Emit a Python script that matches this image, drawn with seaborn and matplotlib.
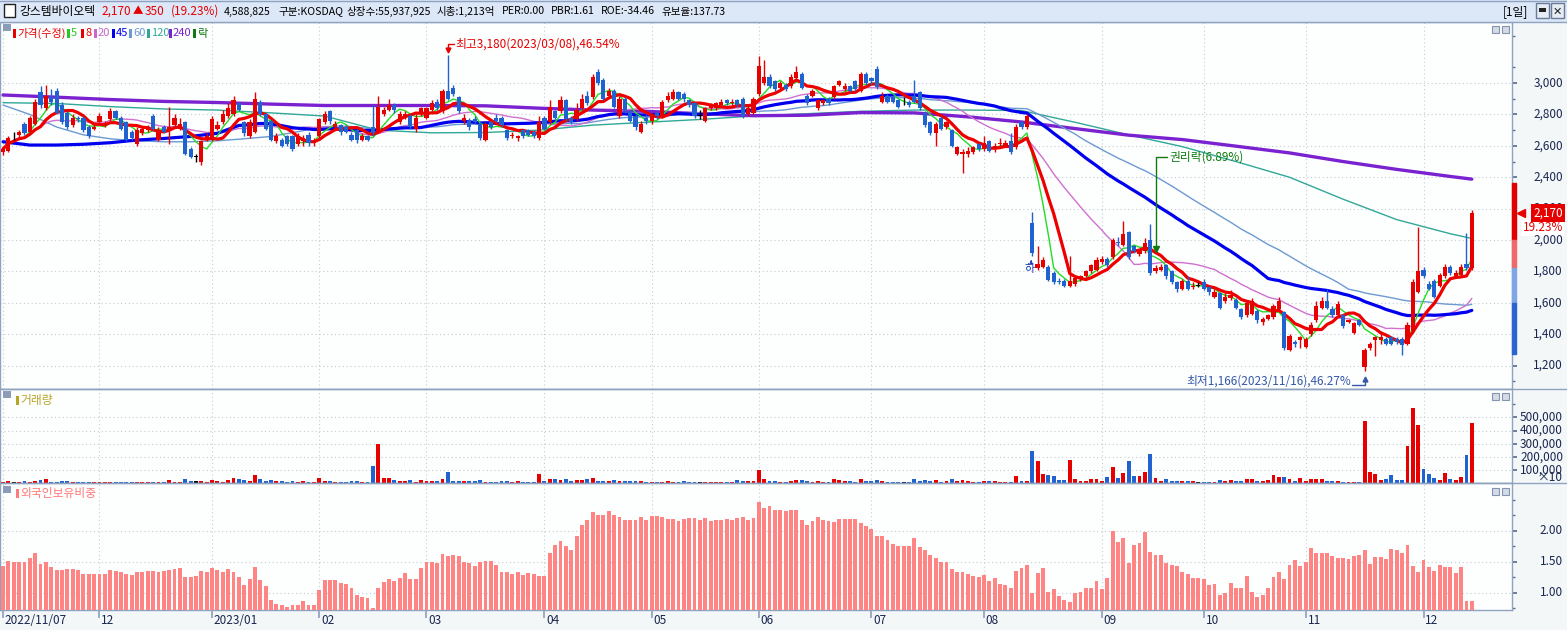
import numpy as np
import pandas as pd
import seaborn as sns
import matplotlib.pyplot as plt
import matplotlib.transforms as mtransforms
from matplotlib.patches import Rectangle
from matplotlib.lines import Line2D

# KRX trading days shown on the chart
krx_holidays = ["2022-12-30", "2023-01-23", "2023-01-24", "2023-03-01", "2023-05-01",
                "2023-05-05", "2023-05-29", "2023-06-06", "2023-08-15", "2023-09-28",
                "2023-09-29", "2023-10-02", "2023-10-03", "2023-10-09"]
dates = pd.bdate_range("2022-11-07", "2023-12-14", freq="C", holidays=krx_holidays)

open_ = [
    2560, 2570, 2660, 2670, 2740, 2690, 2740, 2940, 2840, 2910,
    2950, 2860, 2810, 2730, 2780, 2780, 2720, 2710, 2750, 2730,
    2770, 2820, 2780, 2750, 2690, 2610, 2680, 2700, 2790, 2640,
    2720, 2700, 2730, 2710, 2750, 2580, 2530, 2500, 2640, 2640,
    2710, 2750, 2790, 2800, 2870, 2750, 2660, 2690, 2880, 2800,
    2760, 2630, 2640, 2660, 2660, 2610, 2630, 2670, 2620, 2660,
    2750, 2820, 2720, 2730, 2720, 2670, 2700, 2640, 2660, 2720,
    2690, 2800, 2830, 2860, 2750, 2780, 2790, 2710, 2800, 2780,
    2830, 2880, 2820, 2950, 2970, 2910, 2760, 2760, 2770, 2740,
    2640, 2750, 2780, 2780, 2700, 2660, 2650, 2700, 2700, 2690,
    2650, 2780, 2750, 2820, 2820, 2890, 2780, 2770, 2840, 2920,
    2910, 3070, 3020, 2920, 2950, 2790, 2900, 2820, 2790, 2690,
    2780, 2760, 2810, 2790, 2890, 2900, 2940, 2930, 2890, 2870,
    2790, 2760, 2840, 2840, 2860, 2890, 2870, 2890, 2900, 2800,
    2810, 2930, 3000, 3040, 3010, 2970, 2990, 2980, 3030, 3060,
    2920, 2920, 2840, 2870, 2900, 2910, 2990, 2960, 2980, 3010,
    2950, 3060, 3030, 3090, 2880, 2920, 2910, 2890, 2890, 2880,
    2920, 2940, 2810, 2750, 2680, 2780, 2720, 2700, 2550, 2550,
    2550, 2560, 2610, 2580, 2630, 2580, 2610, 2600, 2630, 2590,
    2750, 2720, 2110, 1820, 1830, 1830, 1790, 1740, 1740, 1710,
    1720, 1750, 1770, 1800, 1810, 1860, 1880, 1890, 1990, 1970,
    2050, 1960, 1910, 1930, 2000, 1800, 1810, 1840, 1800, 1730,
    1690, 1740, 1700, 1710, 1730, 1700, 1640, 1660, 1610, 1630,
    1620, 1560, 1520, 1530, 1550, 1480, 1500, 1510, 1560, 1540,
    1300, 1350, 1360, 1320, 1400, 1490, 1570, 1610, 1560, 1520,
    1520, 1480, 1410, 1490, 1190, 1310, 1360, 1360, 1370, 1380,
    1370, 1370, 1340, 1420, 1670, 1810, 1720, 1740, 1710, 1770,
    1830, 1770, 1780, 1850, 1820]
close = [
    2580, 2650, 2660, 2690, 2680, 2780, 2880, 2860, 2920, 2880,
    2810, 2750, 2720, 2780, 2770, 2700, 2660, 2720, 2790, 2740,
    2820, 2780, 2710, 2640, 2650, 2700, 2710, 2715, 2710, 2700,
    2690, 2720, 2780, 2740, 2550, 2530, 2530, 2630, 2660, 2770,
    2730, 2800, 2840, 2890, 2830, 2680, 2750, 2900, 2800, 2710,
    2640, 2660, 2600, 2610, 2580, 2660, 2650, 2620, 2630, 2770,
    2800, 2760, 2740, 2690, 2690, 2640, 2640, 2660, 2640, 2680,
    2850, 2830, 2860, 2830, 2800, 2800, 2720, 2780, 2840, 2840,
    2870, 2840, 2950, 2900, 2930, 2820, 2780, 2720, 2750, 2650,
    2740, 2720, 2760, 2730, 2650, 2670, 2660, 2660, 2670, 2660,
    2750, 2710, 2850, 2780, 2890, 2770, 2750, 2830, 2900, 2870,
    3040, 3000, 2900, 2950, 2850, 2900, 2820, 2760, 2720, 2740,
    2760, 2800, 2790, 2880, 2920, 2940, 2900, 2900, 2860, 2790,
    2790, 2840, 2860, 2870, 2880, 2870, 2880, 2860, 2790, 2840,
    2900, 3110, 3040, 2980, 2960, 3000, 2960, 3040, 3070, 2970,
    2870, 2950, 2890, 2890, 2870, 2980, 3010, 2980, 2950, 2960,
    3060, 3000, 3010, 2975, 2920, 2880, 2880, 2850, 2890, 2860,
    2880, 2840, 2730, 2680, 2740, 2710, 2750, 2600, 2590, 2560,
    2570, 2590, 2580, 2620, 2570, 2600, 2620, 2620, 2560, 2720,
    2720, 2790, 1920, 1850, 1870, 1745, 1730, 1730, 1710, 1740,
    1760, 1770, 1800, 1840, 1870, 1880, 1840, 2000, 1980, 2040,
    1890, 1930, 1930, 1980, 1790, 1820, 1830, 1770, 1730, 1690,
    1740, 1690, 1710, 1710, 1690, 1670, 1670, 1570, 1640, 1650,
    1570, 1510, 1600, 1610, 1490, 1500, 1520, 1580, 1610, 1310,
    1390, 1340, 1380, 1370, 1460, 1580, 1610, 1570, 1520, 1590,
    1450, 1490, 1470, 1460, 1300, 1340, 1380, 1380, 1340, 1340,
    1350, 1330, 1460, 1730, 1800, 1770, 1690, 1640, 1780, 1830,
    1790, 1790, 1830, 1820, 2170]
high = [
    2600, 2660, 2690, 2700, 2750, 2790, 2900, 2980, 2990, 2960,
    2970, 2880, 2820, 2800, 2790, 2790, 2730, 2740, 2810, 2760,
    2840, 2830, 2790, 2760, 2700, 2720, 2720, 2730, 2800, 2720,
    2730, 2850, 2800, 2780, 2760, 2590, 2550, 2640, 2680, 2790,
    2760, 2830, 2870, 2920, 2880, 2760, 2770, 2940, 2890, 2810,
    2770, 2680, 2650, 2670, 2670, 2680, 2670, 2690, 2650, 2780,
    2820, 2830, 2760, 2740, 2730, 2690, 2710, 2680, 2670, 2860,
    2920, 2850, 2900, 2870, 2820, 2820, 2800, 2800, 2850, 2850,
    2890, 2900, 2960, 3180, 2990, 2920, 2800, 2780, 2790, 2750,
    2750, 2760, 2800, 2790, 2710, 2690, 2670, 2710, 2710, 2700,
    2790, 2790, 2890, 2830, 2920, 2900, 2790, 2870, 2930, 2950,
    3060, 3090, 3030, 2970, 2960, 2920, 2910, 2830, 2800, 2760,
    2800, 2810, 2820, 2890, 2940, 2960, 2950, 2940, 2900, 2880,
    2830, 2850, 2870, 2880, 2900, 2900, 2900, 2900, 2910, 2860,
    2910, 3170, 3150, 3060, 3020, 3010, 3000, 3060, 3110, 3070,
    2930, 2960, 2900, 2900, 2910, 2990, 3020, 3000, 2990, 3020,
    3070, 3070, 3040, 3110, 2940, 2930, 2920, 2900, 2910, 2890,
    3020, 2950, 2820, 2760, 2750, 2790, 2760, 2710, 2600, 2580,
    2590, 2600, 2620, 2660, 2640, 2620, 2650, 2640, 2680, 2740,
    2760, 2800, 2180, 1960, 1890, 1840, 1800, 1760, 1750, 1900,
    1770, 1780, 1810, 1850, 1890, 1900, 1890, 2010, 2020, 2120,
    2060, 1970, 1940, 2010, 2100, 1840, 1850, 1850, 1810, 1740,
    1750, 1770, 1730, 1730, 1750, 1710, 1690, 1670, 1660, 1680,
    1630, 1570, 1610, 1630, 1560, 1510, 1530, 1590, 1640, 1550,
    1400, 1360, 1390, 1380, 1480, 1610, 1640, 1690, 1580, 1610,
    1530, 1500, 1480, 1500, 1310, 1350, 1390, 1420, 1380, 1390,
    1380, 1380, 1480, 1750, 2080, 1830, 1740, 1750, 1790, 1850,
    1840, 1810, 1850, 2045, 2190]
low = [
    2540, 2560, 2640, 2650, 2670, 2680, 2730, 2840, 2830, 2860,
    2800, 2740, 2710, 2720, 2750, 2690, 2650, 2700, 2740, 2720,
    2760, 2770, 2700, 2630, 2640, 2600, 2670, 2690, 2700, 2630,
    2680, 2610, 2720, 2700, 2540, 2520, 2500, 2480, 2630, 2630,
    2700, 2740, 2780, 2790, 2820, 2660, 2650, 2680, 2790, 2700,
    2630, 2620, 2590, 2600, 2570, 2600, 2600, 2600, 2600, 2640,
    2740, 2740, 2710, 2670, 2680, 2630, 2620, 2630, 2630, 2660,
    2680, 2790, 2820, 2810, 2740, 2770, 2710, 2690, 2790, 2770,
    2820, 2830, 2810, 2890, 2920, 2810, 2740, 2700, 2740, 2640,
    2630, 2710, 2750, 2720, 2640, 2650, 2630, 2650, 2660, 2650,
    2640, 2700, 2740, 2770, 2810, 2760, 2740, 2760, 2830, 2860,
    2900, 2990, 2890, 2910, 2840, 2780, 2810, 2750, 2700, 2680,
    2740, 2740, 2770, 2780, 2880, 2890, 2890, 2880, 2850, 2780,
    2770, 2750, 2830, 2830, 2850, 2860, 2860, 2850, 2780, 2790,
    2800, 2920, 2990, 2970, 2950, 2960, 2950, 2970, 3020, 2960,
    2860, 2910, 2830, 2860, 2860, 2900, 2980, 2950, 2940, 2950,
    2940, 2990, 2990, 2960, 2870, 2870, 2870, 2840, 2860, 2850,
    2870, 2830, 2720, 2670, 2600, 2700, 2710, 2590, 2540, 2430,
    2530, 2550, 2570, 2570, 2560, 2560, 2600, 2590, 2550, 2580,
    2710, 2710, 1900, 1810, 1820, 1740, 1720, 1720, 1700, 1700,
    1710, 1740, 1760, 1790, 1800, 1850, 1830, 1880, 1960, 1960,
    1880, 1920, 1900, 1920, 1780, 1790, 1800, 1750, 1720, 1670,
    1680, 1680, 1690, 1700, 1680, 1650, 1630, 1560, 1600, 1620,
    1560, 1500, 1510, 1520, 1470, 1460, 1490, 1500, 1550, 1300,
    1290, 1320, 1310, 1310, 1390, 1480, 1560, 1560, 1510, 1510,
    1440, 1470, 1400, 1450, 1166, 1300, 1260, 1340, 1330, 1330,
    1340, 1270, 1330, 1410, 1660, 1760, 1680, 1630, 1700, 1760,
    1780, 1760, 1770, 1810, 1810]

# volume in thousands of axis units (axis is shown x10)
volume_k = [
    5, 15, 8, 8, 13, 10, 15, 23, 30, 8,
    10, 13, 15, 8, 8, 8, 8, 8, 8, 8,
    8, 8, 8, 8, 8, 8, 8, 8, 8, 8,
    8, 23, 10, 10, 30, 15, 15, 15, 10, 23,
    15, 8, 23, 38, 30, 23, 15, 61, 30, 15,
    23, 15, 15, 10, 15, 8, 15, 8, 8, 38,
    15, 13, 8, 8, 8, 15, 15, 8, 8, 130,
    297, 38, 38, 23, 15, 15, 23, 8, 23, 15,
    15, 15, 30, 84, 15, 15, 15, 15, 15, 23,
    8, 8, 8, 15, 15, 8, 15, 8, 8, 8,
    69, 15, 30, 30, 23, 30, 15, 23, 23, 30,
    38, 15, 15, 15, 23, 15, 15, 15, 15, 15,
    8, 8, 8, 8, 15, 8, 8, 15, 8, 8,
    8, 8, 8, 8, 8, 8, 8, 23, 15, 15,
    15, 99, 28, 15, 15, 8, 8, 15, 23, 20,
    13, 8, 15, 8, 8, 30, 23, 15, 13, 8,
    28, 15, 15, 23, 15, 8, 8, 8, 8, 8,
    30, 15, 23, 15, 23, 8, 15, 30, 15, 23,
    15, 8, 8, 15, 15, 15, 8, 8, 8, 53,
    15, 15, 244, 168, 69, 61, 53, 23, 23, 175,
    30, 15, 15, 28, 28, 15, 46, 122, 38, 76,
    168, 53, 53, 81, 221, 38, 15, 28, 15, 15,
    15, 15, 15, 8, 8, 8, 8, 23, 15, 23,
    15, 15, 30, 30, 15, 15, 23, 61, 46, 46,
    28, 15, 38, 15, 30, 28, 30, 15, 15, 15,
    8, 8, 8, 8, 472, 81, 66, 23, 30, 61,
    23, 23, 282, 569, 442, 107, 69, 38, 23, 76,
    30, 23, 46, 213, 457]

foreign_pct = [
    1.43, 1.51, 1.49, 1.49, 1.49, 1.56, 1.64, 1.46, 1.49, 1.41,
    1.37, 1.37, 1.38, 1.38, 1.37, 1.30, 1.30, 1.30, 1.30, 1.30,
    1.37, 1.35, 1.33, 1.30, 1.28, 1.33, 1.33, 1.35, 1.35, 1.33,
    1.35, 1.37, 1.38, 1.40, 1.25, 1.25, 1.27, 1.35, 1.33, 1.40,
    1.37, 1.33, 1.38, 1.33, 1.25, 1.12, 1.22, 1.41, 1.20, 1.11,
    0.88, 0.82, 0.80, 0.77, 0.80, 0.80, 0.87, 0.80, 0.80, 1.04,
    1.20, 1.20, 1.20, 1.16, 1.14, 1.08, 0.96, 0.93, 0.91, 0.75,
    1.08, 1.17, 1.22, 1.19, 1.24, 1.32, 1.22, 1.22, 1.40, 1.49,
    1.49, 1.48, 1.62, 1.59, 1.61, 1.59, 1.49, 1.48, 1.43, 1.49,
    1.51, 1.51, 1.45, 1.33, 1.33, 1.30, 1.33, 1.28, 1.32, 1.30,
    1.27, 1.27, 1.64, 1.77, 1.83, 1.76, 1.69, 1.91, 2.09, 2.17,
    2.30, 2.25, 2.25, 2.32, 2.25, 2.22, 2.17, 2.17, 2.17, 2.22,
    2.17, 2.24, 2.24, 2.22, 2.19, 2.19, 2.16, 2.19, 2.20, 2.20,
    2.17, 2.20, 2.16, 2.17, 2.17, 2.19, 2.17, 2.20, 2.22, 2.17,
    2.21, 2.46, 2.37, 2.40, 2.33, 2.33, 2.32, 2.33, 2.33, 2.17,
    2.09, 2.16, 2.22, 2.17, 2.16, 2.14, 2.19, 2.19, 2.19, 2.19,
    2.12, 2.08, 2.03, 1.91, 1.91, 1.85, 1.78, 1.75, 1.75, 1.75,
    1.88, 1.74, 1.69, 1.61, 1.56, 1.49, 1.49, 1.38, 1.33, 1.33,
    1.30, 1.27, 1.25, 1.28, 1.19, 1.24, 1.14, 1.12, 1.08, 1.35,
    1.40, 1.45, 0.99, 1.32, 1.40, 1.01, 1.06, 0.95, 0.88, 0.85,
    0.99, 1.01, 1.08, 1.08, 1.19, 1.06, 1.24, 1.99, 1.82, 1.88,
    1.48, 1.77, 1.80, 1.98, 1.66, 1.61, 1.61, 1.48, 1.45, 1.43,
    1.33, 1.30, 1.24, 1.24, 1.22, 1.12, 1.14, 0.96, 0.99, 1.16,
    1.08, 1.08, 1.27, 1.01, 0.93, 0.96, 1.08, 1.25, 1.33, 1.22,
    1.45, 1.53, 1.43, 1.49, 1.72, 1.64, 1.64, 1.64, 1.59, 1.56,
    1.56, 1.54, 1.59, 1.61, 1.69, 1.46, 1.58, 1.58, 1.54, 1.70,
    1.69, 1.64, 1.77, 1.43, 1.33, 1.53, 1.41, 1.35, 1.45, 1.41,
    1.41, 1.32, 1.41, 0.87, 0.87]

# long moving averages (history before the window is not shown)
ma_days = [0, 10, 20, 30, 40, 50, 60, 70, 80, 90, 100, 110, 120, 130, 140,
           150, 160, 170, 180, 190, 200, 210, 220, 230, 240, 250, 260, 270, 274]
ma120_read = [2875, 2870, 2850, 2835, 2828, 2810, 2790, 2700, 2683, 2685, 2700, 2732,
              2750, 2768, 2790, 2805, 2820, 2828, 2828, 2825, 2750, 2670, 2595, 2500,
              2400, 2260, 2130, 2040, 2010]
ma240_read = [2924, 2910, 2895, 2883, 2876, 2866, 2857, 2857, 2857, 2855, 2840, 2828,
              2820, 2805, 2792, 2795, 2812, 2810, 2785, 2752, 2710, 2668, 2640, 2598,
              2555, 2500, 2450, 2405, 2388]
# first weeks of the 45/60-day averages, before a full window of closes is on the chart
head_days_45 = [0, 5, 10, 15, 20, 25, 30, 35, 40]
ma45_head = [2626, 2605, 2605, 2610, 2620, 2637, 2647, 2660, 2680]
head_days_60 = [0, 5, 10, 15, 20, 25, 30, 35, 40, 45, 50, 55]
ma60_head = [2860, 2800, 2720, 2670, 2645, 2632, 2626, 2626, 2632, 2645, 2660, 2690]

ex_rights_date = "2023-09-15"
limit_band = [2366, 2000, 1820, 1600, 1274]
limit_colors = ["#e00000", "#f06a6a", "#7ea6e6", "#2a64d0"]

RED = "#e60000"
BLUE = "#1f62d0"
EDGE = "#8fa3c0"
GRID = "#c4ccd6"
TXT = "#1a2650"
W, H = 1567, 630

sns.set_theme(style="white")
plt.rcParams["font.family"] = ["Noto Sans CJK KR", "DejaVu Sans"]

df = pd.DataFrame({"date": dates, "open": open_, "high": high, "low": low,
                   "close": close, "volume": np.array(volume_k) * 1000,
                   "foreign": foreign_pct})
df["i"] = np.arange(len(df))
for n in (5, 8, 20):
    df[f"ma{n}"] = df["close"].rolling(n, min_periods=1).mean()
for n in (45, 60):
    df[f"ma{n}"] = df["close"].rolling(n).mean()


def joined(head_days, head_vals, col):
    full = df[["i", col]].dropna()
    x = list(head_days) + full["i"].tolist()
    y = list(head_vals) + full[col].tolist()
    return pd.DataFrame({"i": x, col: y})


candle_col = np.where(df.close > df.open, RED, np.where(df.close < df.open, BLUE, "black"))
month_idx = [0] + [k for k in range(1, len(df)) if df.date[k].month != df.date[k - 1].month]
month_lab = []
for k in month_idx:
    d = df.date[k]
    if k == 0:
        month_lab.append(d.strftime("%Y/%m/%d"))
    elif d.month == 1:
        month_lab.append(d.strftime("%Y/%m"))
    else:
        month_lab.append(d.strftime("%m"))


def box(x0, y0, x1, y1):
    return [x0 / W, 1 - y1 / H, (x1 - x0) / W, (y1 - y0) / H]


def px_rect(x, y, w, h, **kw):
    fig.patches.append(Rectangle((x / W, 1 - (y + h) / H), w / W, h / H,
                                 transform=fig.transFigure, **kw))


def px_text(x, y, s, **kw):
    kw.setdefault("fontsize", 8.5)
    fig.text(x / W, 1 - y / H, s, va="center", ha=kw.pop("ha", "left"), **kw)


fig = plt.figure(figsize=(W / 100, H / 100), dpi=100, facecolor="#f3f7f8")
ax_p = fig.add_axes(box(0, 22, 1512, 389))
ax_v = fig.add_axes(box(0, 389, 1512, 483), sharex=ax_p)
ax_f = fig.add_axes(box(0, 483, 1512, 610), sharex=ax_p)

# ---- price panel
sns.lineplot(x=ma_days, y=ma120_read, ax=ax_p, color="#30a898", linewidth=1.0, zorder=2)
sns.lineplot(x=ma_days, y=ma240_read, ax=ax_p, color="#7b22d0", linewidth=2.4, zorder=2)
sns.lineplot(data=joined(head_days_60, ma60_head, "ma60"), x="i", y="ma60", ax=ax_p,
             color="#6c9ad2", linewidth=1.0, zorder=2)
sns.lineplot(data=df, x="i", y="ma20", ax=ax_p, color="#d070d0", linewidth=1.0, zorder=2)
sns.lineplot(data=joined(head_days_45, ma45_head, "ma45"), x="i", y="ma45", ax=ax_p,
             color="#0000ee", linewidth=2.3, zorder=2)
sns.lineplot(data=df, x="i", y="ma5", ax=ax_p, color="#22dd22", linewidth=1.0, zorder=2)
sns.lineplot(data=df, x="i", y="ma8", ax=ax_p, color="#ee0000", linewidth=2.3, zorder=2)

ax_p.vlines(df.i, df.low, df.high, colors=candle_col, lw=1, zorder=3)
body_lo = np.minimum(df.open, df.close)
body_h = np.maximum(np.abs(df.close - df.open), 5)
ax_p.bar(df.i, body_h, bottom=body_lo, width=0.78, color=candle_col, linewidth=0, zorder=4)

last, prev = df.close.iloc[-1], df.close.iloc[-2]
hi_i = int(df.high.idxmax()); hi = df.high[hi_i]
lo_i = int(df.low.idxmin()); lo = df.low[lo_i]
ax_p.plot([hi_i + 1.2, hi_i, hi_i], [hi + 68, hi + 68, hi + 30], color=RED, lw=1, zorder=5)
ax_p.plot(hi_i, hi + 28, marker="v", ms=3.5, color=RED, zorder=5)
ax_p.text(hi_i + 1.4, hi + 68, f"최고{hi:,}({df.date[hi_i]:%Y/%m/%d}),{(hi - last) / last * 100:.2f}%",
          color=RED, fontsize=8.5, va="center", ha="left")
LOW_C = "#3558a8"
ax_p.plot([lo_i - 2.3, lo_i, lo_i], [lo - 90, lo - 90, lo - 52], color=LOW_C, lw=1, zorder=5)
ax_p.plot(lo_i, lo - 50, marker="^", ms=3.5, color=LOW_C, zorder=5)
ax_p.text(lo_i - 2.5, lo - 66, f"최저{lo:,}({df.date[lo_i]:%Y/%m/%d}),{(last - lo) / last * 100:.2f}%",
          color=LOW_C, fontsize=8.5, va="center", ha="right")

ex_i = int(np.where(df.date == pd.Timestamp(ex_rights_date))[0][0])
GRN = "#107a10"
ax_p.plot([ex_i + 2.2, ex_i, ex_i], [2530, 2530, 1950], color=GRN, lw=1, zorder=5)
ax_p.plot(ex_i, 1945, marker="v", ms=4, color=GRN, zorder=5)
ax_p.text(ex_i + 2.6, 2530, "권리락(6.89%)", color=GRN, fontsize=8.5, va="center")

gap_i = int(np.argmax(np.array(open_[1:]) < np.array(close[:-1]) * 0.8)) + 1
ax_p.text(gap_i - 0.4, df.low[gap_i] - 82, "하", color="#2040c0", fontsize=8, ha="center", va="center")
ax_p.annotate("", xy=(gap_i - 0.2, df.low[gap_i] - 10), xytext=(gap_i - 0.2, df.low[gap_i] - 55),
              arrowprops=dict(arrowstyle="-|>", color="#2040c0", lw=0.8, mutation_scale=5))

ax_p.set_ylim(1051, 3389)
blend_p = mtransforms.blended_transform_factory(ax_p.transAxes, ax_p.transData)
for k in range(len(limit_band) - 1):
    ax_p.add_patch(Rectangle((1.0, limit_band[k + 1]), 4 / 1512, limit_band[k] - limit_band[k + 1],
                             transform=blend_p, color=limit_colors[k], clip_on=False, zorder=6))
xr = 1 + 51 / 1512
ax_p.text(xr, last, f"{last:,}", transform=blend_p, ha="right", va="center", color="white",
          fontsize=8.5, zorder=7,
          bbox=dict(boxstyle="square,pad=0.2", fc=RED, ec="none"))
ax_p.plot([1 + 9 / 1512], [last], marker="<", ms=6, color=RED, transform=blend_p, clip_on=False, zorder=7)
ax_p.annotate(f"{(last - prev) / prev * 100:.2f}%", xy=(xr, last), xycoords=blend_p,
              xytext=(0, -10.5), textcoords="offset points", ha="right", va="center",
              color=RED, fontsize=8.5, annotation_clip=False,
              bbox=dict(boxstyle="square,pad=0.1", fc="white", ec="none"))

price_ticks = list(range(1200, 3001, 200))
ax_p.set_yticks(price_ticks)
ax_p.set_yticks([v for v in range(1100, 3301, 100) if v % 200], minor=True)
for v in price_ticks:
    ax_p.text(xr, v, f"{v:,}", transform=blend_p, ha="right", va="center", color=TXT, fontsize=8.5)

# ---- volume panel
ax_v.bar(df.i, df.volume, width=0.72, color=candle_col, linewidth=0, zorder=3)
ax_v.set_ylim(0, 717000)
vol_ticks = list(range(100000, 500001, 100000))
ax_v.set_yticks(vol_ticks)
ax_v.set_yticks([600000], minor=True)
blend_v = mtransforms.blended_transform_factory(ax_v.transAxes, ax_v.transData)
for v in vol_ticks:
    ax_v.text(xr, v, f"{v:,}", transform=blend_v, ha="right", va="center", color=TXT, fontsize=8.5)
ax_v.text(xr, 45000, "×10", transform=blend_v, ha="right", va="center", color=TXT, fontsize=8.5)

# ---- foreign ownership panel
ax_f.bar(df.i, df.foreign, width=0.72, color="#ff8585", linewidth=0, zorder=3)
ax_f.set_ylim(0.721, 2.769)
f_ticks = [1.0, 1.5, 2.0]
ax_f.set_yticks(f_ticks)
ax_f.set_yticks([0.75, 1.25, 1.75, 2.25, 2.5], minor=True)
blend_f = mtransforms.blended_transform_factory(ax_f.transAxes, ax_f.transData)
for v in f_ticks:
    ax_f.text(xr, v, f"{v:.2f}", transform=blend_f, ha="right", va="center", color=TXT, fontsize=8.5)

blend_x = mtransforms.blended_transform_factory(ax_f.transData, ax_f.transAxes)
for k, lab in zip(month_idx, month_lab):
    ax_f.text(k + 0.35, -10 / 127, lab, transform=blend_x, ha="left", va="center", color=TXT, fontsize=8.5)

for ax in (ax_p, ax_v, ax_f):
    ax.set_facecolor("#fdfefe")
    ax.set_xlabel("")
    ax.set_ylabel("")
    for s in ax.spines.values():
        s.set_color(EDGE)
        s.set_linewidth(1)
    ax.set_xticks(month_idx)
    ax.yaxis.tick_right()
    ax.tick_params(axis="y", which="major", direction="out", length=3.5, color="#5a6e90",
                   labelright=False, labelleft=False)
    ax.tick_params(axis="y", which="minor", direction="out", length=2.2, color="#5a6e90")
    ax.tick_params(axis="x", bottom=False, labelbottom=False)
    ax.grid(True, which="major", color=GRID, linestyle=(0, (1, 2.5)), linewidth=0.8)
    ax.set_axisbelow(True)
ax_f.tick_params(axis="x", bottom=True, direction="out", length=6, color=EDGE, labelbottom=False)
ax_p.set_xlim(-0.56, 281.5)

# ---- header bar and panel decorations
px_rect(0, 0, W, 22, facecolor="#dce7f7", edgecolor="none")
for yy in (0.5, 22, 389, 483):
    fig.add_artist(Line2D([0, 1], [1 - yy / H] * 2, color=EDGE, lw=1))
px_rect(4, 4, 11, 13, facecolor="white", edgecolor="#222222", lw=1)
px_text(19, 11.5, "강스템바이오텍", color="black", fontsize=8.5)
px_text(101, 11.5, f"{last:,}", color=RED)
px_text(133, 11.5, "▲", color=RED, fontsize=7.5)
px_text(145, 11.5, f"{last - prev:,}", color=RED)
px_text(171, 11.5, f"({(last - prev) / prev * 100:.2f}%)", color=RED)
header_bits = [(224, "4,588,825"), (278, "구분:KOSDAQ"), (347, "상장수:55,937,925"),
               (437, "시총:1,213억"), (502, "PER:0.00"), (551, "PBR:1.61"),
               (601, "ROE:-34.46"), (661, "유보율:137.73")]
for x, s in header_bits:
    px_text(x, 11.5, s, color="black", fontsize=7.6)
px_text(1503, 11.5, "[1일]", color="black")
for bx in (1536, 1551):
    px_rect(bx, 3, 13, 15, facecolor="#e6ecf4", edgecolor="#6a7a98", lw=1)
px_rect(1539, 8, 7, 4, facecolor="#222222", edgecolor="none")
px_text(1557.5, 11, "✕", color="#222222", fontsize=8, ha="center", fontweight="bold")

for y0 in (24, 391, 486):
    px_rect(3, y0, 8, 7, facecolor="#8c9cb8", edgecolor="none")
    for bx in (1492, 1502):
        px_rect(bx, y0 + 2, 7, 7, facecolor="#d4dbe6", edgecolor="#8494b0", lw=0.8)

legend_items = [("가격(수정)", 13, RED), ("5", 67, "#22cc22"), ("8", 81, RED), ("20", 94, "#cc66cc"),
                ("45", 112, "#0000ee"), ("60", 129, "#6c9ad2"), ("120", 147, "#30a898"),
                ("240", 169, "#7b22d0"), ("락", 193, GRN)]
for s, x, c in legend_items:
    px_rect(x, 29, 2.5, 9, facecolor=c, edgecolor="none")
    px_text(x + 4, 33.5, s, color=c, fontsize=8)
px_rect(16, 396, 2.5, 9, facecolor="#b8a428", edgecolor="none")
px_text(20, 400.5, "거래량", color="#b8a428", fontsize=8.5)
px_rect(16, 489, 2.5, 9, facecolor="#ff7a7a", edgecolor="none")
px_text(20, 493.5, "외국인보유비중", color="#ff7a7a", fontsize=8.5)

fig.savefig("out.png", dpi=100)
